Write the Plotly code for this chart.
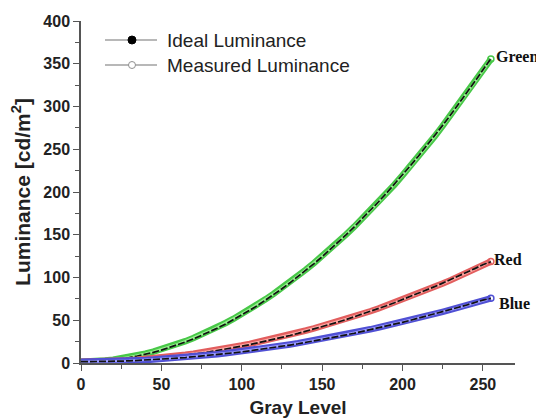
import plotly.graph_objects as go

gray = [0, 5, 10, 15, 20, 25, 30, 35, 40, 45, 50, 55, 60, 65, 70, 75, 80, 85, 90, 95,
        100, 105, 110, 115, 120, 125, 130, 135, 140, 145, 150, 155, 160, 165, 170, 175,
        180, 185, 190, 195, 200, 205, 210, 215, 220, 225, 230, 235, 240, 245, 250, 255]

green_ideal = [1.5, 1.6, 2.0, 2.7, 3.7, 4.9, 6.4, 8.2, 10.2, 12.5, 15.1, 18.0, 21.1, 24.6,
               28.2, 32.2, 36.4, 40.9, 45.7, 50.8, 56.1, 61.7, 67.5, 73.7, 80.1, 86.8, 93.8,
               101.0, 108.5, 116.3, 124.3, 132.7, 141.3, 150.1, 159.3, 168.7, 178.4, 188.3,
               198.6, 209.1, 219.9, 230.9, 242.2, 253.8, 265.7, 277.9, 290.3, 303.0, 316.0,
               329.2, 342.7, 356.0]
green_meas = [1.6, 1.7, 2.1, 2.9, 3.9, 5.2, 6.8, 8.6, 10.8, 13.2, 15.9, 18.8, 22.0, 25.5,
              29.2, 33.1, 37.4, 41.9, 46.8, 51.8, 57.1, 62.8, 68.6, 74.7, 81.1, 87.8, 94.6,
              101.8, 109.3, 117.0, 125.0, 133.2, 141.6, 150.5, 159.5, 168.9, 178.2, 188.0,
              198.1, 208.5, 219.4, 230.3, 241.5, 253.0, 265.0, 277.3, 289.8, 302.6, 315.5,
              328.6, 342.0, 355.5]

red_ideal = [1.5, 1.5, 1.7, 1.9, 2.2, 2.6, 3.1, 3.7, 4.4, 5.2, 6.0, 7.0, 8.0, 9.2, 10.4,
             11.7, 13.1, 14.6, 16.2, 17.9, 19.7, 21.5, 23.5, 25.5, 27.6, 29.9, 32.2, 34.6,
             37.1, 39.7, 42.3, 45.1, 48.0, 50.9, 54.0, 57.1, 60.3, 63.6, 67.0, 70.5, 74.1,
             77.8, 81.5, 85.4, 89.3, 93.4, 97.5, 101.7, 106.0, 110.4, 114.9, 118.5]
red_meas = [1.6, 1.6, 1.8, 2.0, 2.3, 2.7, 3.3, 3.9, 4.6, 5.4, 6.3, 7.3, 8.4, 9.6, 10.9,
            12.2, 13.7, 15.2, 16.9, 18.6, 20.4, 22.3, 24.3, 26.4, 28.5, 30.8, 33.1, 35.5,
            38.0, 40.5, 43.1, 45.8, 48.6, 51.4, 54.4, 57.4, 60.5, 63.7, 67.1, 70.6, 74.2,
            77.8, 81.4, 85.1, 88.9, 92.9, 96.9, 101.0, 105.4, 109.8, 114.4, 118.8]

blue_ideal = [1.5, 1.5, 1.6, 1.8, 2.0, 2.2, 2.5, 2.9, 3.3, 3.8, 4.4, 5.0, 5.7, 6.4, 7.2,
              8.0, 8.9, 9.8, 10.8, 11.9, 13.0, 14.2, 15.5, 16.8, 18.1, 19.5, 21.0, 22.5,
              24.1, 25.7, 27.4, 29.2, 31.0, 32.9, 34.8, 36.8, 38.9, 41.0, 43.1, 45.3, 47.6,
              50.0, 52.4, 54.8, 57.3, 59.9, 62.5, 65.2, 67.9, 70.7, 73.6, 75.5]
blue_meas = [1.6, 1.6, 1.7, 1.9, 2.1, 2.4, 2.7, 3.1, 3.5, 4.0, 4.6, 5.2, 5.9, 6.7, 7.5,
             8.4, 9.3, 10.3, 11.3, 12.4, 13.6, 14.8, 16.1, 17.4, 18.8, 20.2, 21.7, 23.2,
             24.8, 26.4, 28.1, 29.8, 31.6, 33.5, 35.4, 37.4, 39.4, 41.5, 43.6, 45.8, 48.0,
             50.3, 52.6, 55.0, 57.4, 59.9, 62.4, 65.0, 67.7, 70.4, 73.2, 75.6]

labels = ["Green", "Red", "Blue"]
label_x = [256.8, 255.5, 259.0]
label_y = [358, 120.5, 70]

legend_names = ["Ideal Luminance", "Measured Luminance"]

fig = go.Figure()

series = [
    (green_meas, green_ideal, "#48c848", "#98f090"),
    (red_meas, red_ideal, "#e25e5e", "#ffa8a4"),
    (blue_meas, blue_ideal, "#5050d4", "#9c9cff"),
]
for meas, ideal, outer, inner in series:
    fig.add_trace(go.Scatter(x=gray, y=meas, mode="lines", line=dict(color=outer, width=6.5),
                             showlegend=False, hoverinfo="skip"))
    fig.add_trace(go.Scatter(x=gray, y=meas, mode="lines", line=dict(color=inner, width=2.5),
                             showlegend=False, hoverinfo="skip"))
    fig.add_trace(go.Scatter(x=gray[-1:], y=meas[-1:], mode="markers",
                             marker=dict(symbol="circle-open", size=6, color=outer, line=dict(width=1.5)),
                             showlegend=False, hoverinfo="skip"))
    fig.add_trace(go.Scatter(x=gray, y=ideal, mode="lines",
                             line=dict(color="#111111", width=1.7, dash="7px,2px"),
                             showlegend=False))

# custom legend (keys drawn in plot-area fractions)
leg_y = [0.9444, 0.8713]
for i, (name, ly) in enumerate(zip(legend_names, leg_y)):
    fig.add_shape(type="line", xref="paper", yref="paper", x0=0.0553, x1=0.1751, y0=ly, y1=ly,
                  line=dict(color="#a0a0a0", width=1.5))
    if i == 0:
        fig.add_shape(type="circle", xref="paper", yref="paper", xsizemode="pixel", ysizemode="pixel",
                      xanchor=0.1175, yanchor=ly, x0=-4, x1=4, y0=-4, y1=4,
                      fillcolor="black", line=dict(color="black", width=1))
    else:
        fig.add_shape(type="circle", xref="paper", yref="paper", xsizemode="pixel", ysizemode="pixel",
                      xanchor=0.1175, yanchor=ly, x0=-3.5, x1=3.5, y0=-3.5, y1=3.5,
                      fillcolor="white", line=dict(color="#909090", width=1))
    fig.add_annotation(xref="paper", yref="paper", x=0.193, y=ly, text=name, showarrow=False,
                       xanchor="left", yanchor="middle",
                       font=dict(family="Liberation Sans, Arial, sans-serif", size=19, color="#222222"))

for t, lx, ly in zip(labels, label_x, label_y):
    fig.add_annotation(x=lx, y=ly, text="<b>" + t + "</b>", showarrow=False,
                       xanchor="left", yanchor="middle",
                       font=dict(family="Liberation Serif, Times New Roman, serif", size=16, color="#111111"))

axis_font = dict(family="Liberation Sans, Arial, sans-serif", size=16, color="#222222")
fig.update_layout(
    width=536, height=410,
    margin=dict(l=73, r=29, t=13, b=55, autoexpand=False),
    paper_bgcolor="white", plot_bgcolor="white",
    showlegend=False,
    xaxis=dict(range=[0, 270], tickvals=[0, 50, 100, 150, 200, 250],
               ticktext=["<b>0</b>", "<b>50</b>", "<b>100</b>", "<b>150</b>", "<b>200</b>", "<b>250</b>"],
               ticks="outside", ticklen=6, tickwidth=1.2, tickcolor="#555555",
               minor=dict(ticks="outside", ticklen=4, tickvals=[25, 75, 125, 175, 225], tickcolor="#555555"),
               showline=True, linecolor="#555555", linewidth=1.5, showgrid=False, zeroline=False,
               tickfont=axis_font, automargin=False,
               title=dict(text="<b>Gray Level</b>", standoff=11,
                          font=dict(family="Liberation Sans, Arial, sans-serif", size=19, color="#222222"))),
    yaxis=dict(range=[0, 400], tickvals=[0, 50, 100, 150, 200, 250, 300, 350, 400],
               ticktext=["<b>%d</b>" % v for v in [0, 50, 100, 150, 200, 250, 300, 350, 400]],
               ticks="outside", ticklen=6, tickwidth=1.2, tickcolor="#555555",
               minor=dict(ticks="outside", ticklen=4, tickvals=[25, 75, 125, 175, 225, 275, 325, 375], tickcolor="#555555"),
               showline=True, linecolor="#555555", linewidth=1.5, showgrid=False, zeroline=False,
               tickfont=axis_font, automargin=False,
               title=dict(text="<b>Luminance [cd/m<sup>2</sup>]</b>", standoff=8,
                          font=dict(family="Liberation Sans, Arial, sans-serif", size=21, color="#222222"))),
)

fig.write_html("out.html")
